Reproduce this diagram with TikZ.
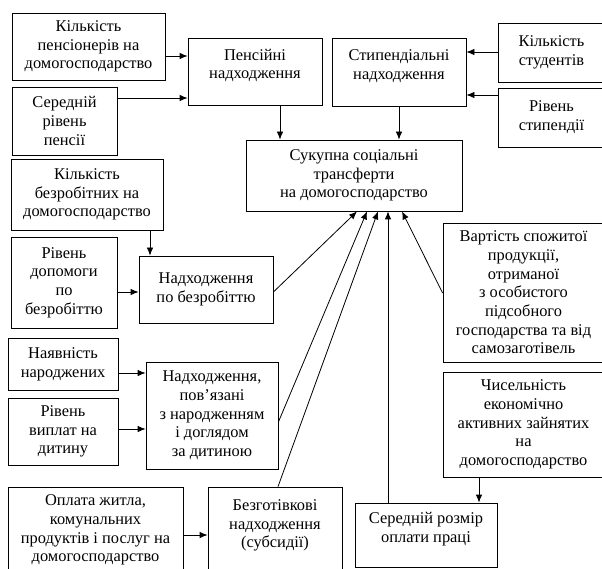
\documentclass[tikz,border=0pt]{standalone}
\usepackage{fontspec}
\setmainfont{Liberation Serif}
\usetikzlibrary{arrows.meta}

\begin{document}
\begin{tikzpicture}[x=1pt, y=-1pt,
  box/.style={draw, line width=0.8pt, inner sep=0pt, align=center,
    font=\fontsize{16.4}{18.7}\selectfont},
  arr/.style={-{Latex[length=8pt,width=6.5pt]}, line width=0.8pt}]
\useasboundingbox (0,0) rectangle (602,569);
% Define the nodes
\node[box, minimum width=153pt, minimum height=67pt] at (88.5,46.5) (kp) {Кількість\\пенсіонерів на\\домогосподарство};
\node[box, minimum width=105pt, minimum height=68pt] at (64.5,121) (sr) {Середній\\рівень\\пенсії};
\node[box, minimum width=134pt, minimum height=67pt] at (255,71.5) (pens) {Пенсійні\\надходження\\[-9pt]\strut};
\node[box, minimum width=134pt, minimum height=68pt] at (399,72) (stip) {Стипендіальні\\надходження\\[-9pt]\strut};
\node[box, minimum width=107pt, minimum height=59pt] at (551.5,52.5) (ks) {Кількість\\студентів};
\node[box, minimum width=107pt, minimum height=59pt] at (551.5,117.5) (rs) {Рівень\\стипендії};
\node[box, minimum width=216pt, minimum height=71pt] at (354,175.5) (suk) {Сукупна соціальні\\трансферти\\на домогосподарство};
\node[box, minimum width=152pt, minimum height=71pt] at (87,194.5) (kb) {Кількість\\безробітних на\\домогосподарство};
\node[box, minimum width=106pt, minimum height=91pt] at (64,282.5) (rd) {Рівень\\допомоги\\по\\безробіттю};
\node[box, minimum width=134pt, minimum height=67pt] at (206,289.5) (nb) {Надходження\\по безробіттю};
\node[box, minimum width=161pt, minimum height=139pt] at (523.5,292.5) (vs) {Вартість спожитої\\продукції,\\отриманої\\з особистого\\підсобного\\господарства та від\\самозаготівель};
\node[box, minimum width=110pt, minimum height=52pt] at (63,364.5) (nn) {Наявність\\народжених};
\node[box, minimum width=110pt, minimum height=67pt] at (63,431.5) (rv) {Рівень\\виплат на\\дитину};
\node[box, minimum width=132pt, minimum height=107pt] at (212,415.5) (np) {Надходження,\\пов’язані\\з народженням\\і доглядом\\за дитиною};
\node[box, minimum width=161pt, minimum height=105pt] at (523.5,424.5) (ch) {Чисельність\\економічно\\активних зайнятих\\на\\домогосподарство};
\node[box, minimum width=175pt, minimum height=86pt] at (95.5,530) (oz) {Оплата житла,\\комунальних\\продуктів і послуг на\\домогосподарство};
\node[box, minimum width=134pt, minimum height=86pt] at (275,530) (bh) {Безготівкові\\надходження\\(субсидії)\\[-12pt]\strut};
\node[box, minimum width=142pt, minimum height=64pt] at (426,535) (sz) {Середній розмір\\оплати праці\\[-9pt]\strut};
% Draw the paths
\draw[arr] (kp.east |- 0,56) -- (pens.west |- 0,56);
\draw[arr] (sr.east |- 0,98) -- (pens.west |- 0,98);
\draw[arr] (ks.west |- 0,52) -- (stip.east |- 0,52);
\draw[arr] (rs.west |- 0,95) -- (stip.east |- 0,95);
\draw[arr] (pens.south -| 280,0) -- (suk.north -| 280,0);
\draw[arr] (stip.south) -- (suk.north -| stip.south);
\draw[arr] (kb.south -| 150,0) -- (nb.north -| 150,0);
\draw[arr] (rd.east |- 0,292) -- (nb.west |- 0,292);
\draw[arr] (nb.east |- 0,292) -- (suk.south -| 357,0);
\draw[arr] (np.east |- 0,422) -- (suk.south -| 367,0);
\draw[arr] (bh.north -| 278,0) -- (suk.south -| 378,0);
\draw[arr] (sz.north -| 388,0) -- (suk.south -| 388,0);
\draw[arr] (vs.west |- 0,293) -- (suk.south -| 402,0);
\draw[arr] (nn.east |- 0,373) -- (np.west |- 0,373);
\draw[arr] (rv.east |- 0,429) -- (np.west |- 0,429);
\draw[arr] (oz.east |- 0,535) -- (bh.west |- 0,535);
\draw[arr] (ch.south -| 479,0) -- (sz.north -| 479,0);
\end{tikzpicture}
\end{document}
